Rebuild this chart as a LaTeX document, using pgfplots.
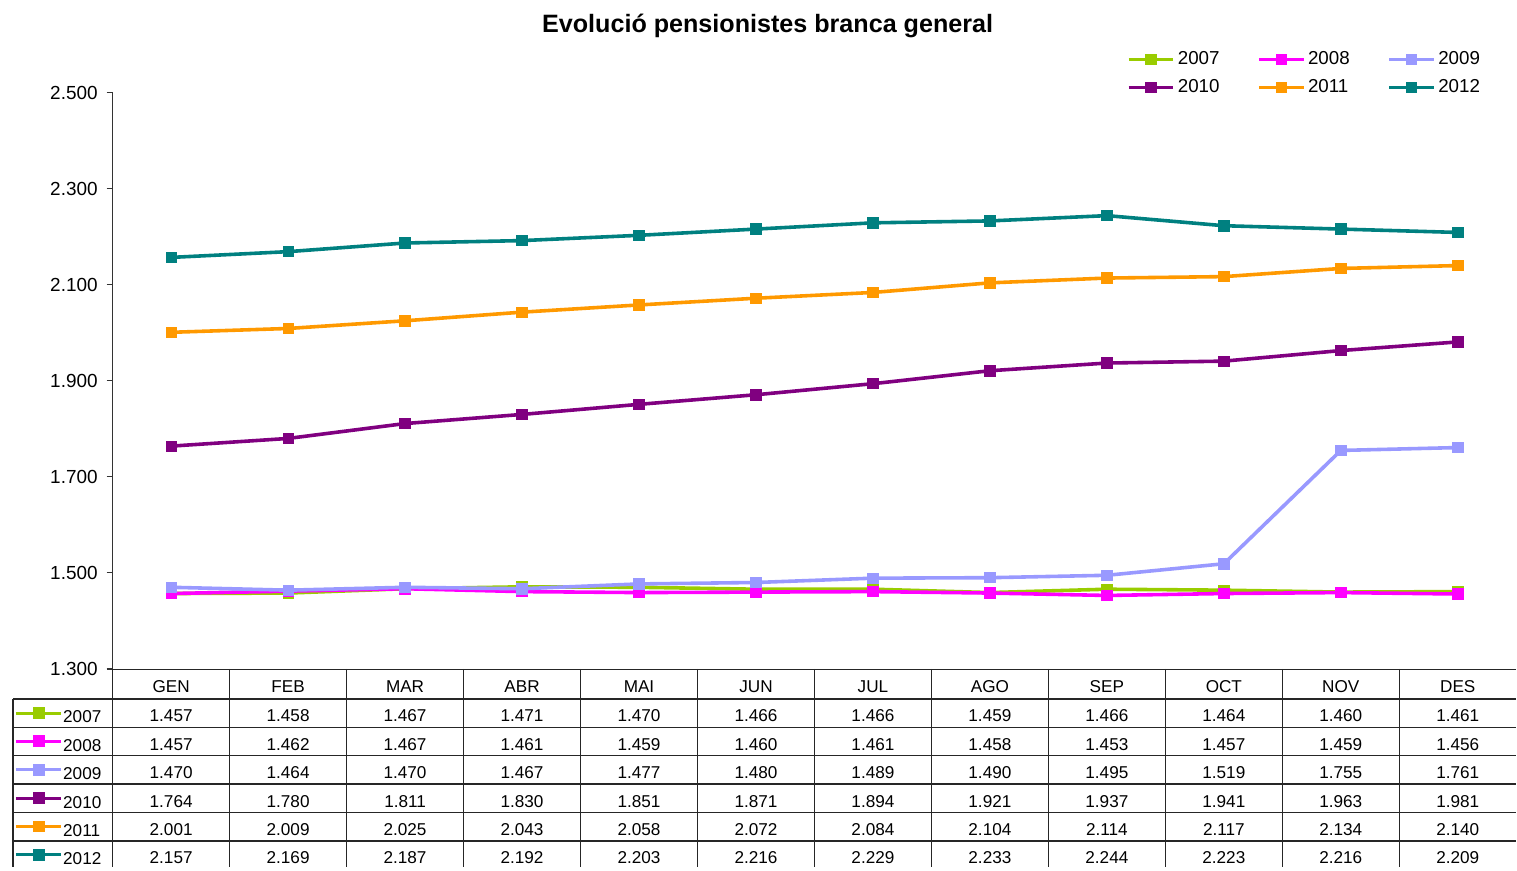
\documentclass[border=0pt]{standalone}
\usepackage{fontspec}
\setmainfont{Liberation Sans}
\usepackage{pgfplots}
\usepackage{pgfplotstable}
\pgfplotsset{compat=1.18}

\definecolor{c07}{HTML}{99CC00}
\definecolor{c08}{HTML}{FF00FF}
\definecolor{c09}{HTML}{9999FF}
\definecolor{c10}{HTML}{800080}
\definecolor{c11}{HTML}{FF9900}
\definecolor{c12}{HTML}{008080}

\pgfkeys{/pgf/number format/.cd,1000 sep={.},assume math mode=true}

% pensionistes per mes (GEN..DES = 0..11)
\pgfplotstableread{
m  y2007 y2008 y2009 y2010 y2011 y2012
0  1457  1457  1470  1764  2001  2157
1  1458  1462  1464  1780  2009  2169
2  1467  1467  1470  1811  2025  2187
3  1471  1461  1467  1830  2043  2192
4  1470  1459  1477  1851  2058  2203
5  1466  1460  1480  1871  2072  2216
6  1466  1461  1489  1894  2084  2229
7  1459  1458  1490  1921  2104  2233
8  1466  1453  1495  1937  2114  2244
9  1464  1457  1519  1941  2117  2223
10 1460  1459  1755  1963  2134  2216
11 1461  1456  1761  1981  2140  2209
}\pens

\begin{document}
\begin{tikzpicture}
% pixel grid of the reference: 1px = 0.5pt, origin top left
\begin{scope}[x=0.5pt,y=-0.5pt,shift={(-56.5pt,335.5pt)}]
\path[use as bounding box] (0,0) rectangle (1517,868);
\end{scope}

\begin{axis}[
  at={(0pt,0pt)}, anchor=south west,
  scale only axis, width=704pt, height=289pt,
  xmin=-0.5, xmax=11.5, ymin=1300, ymax=2500,
  ytick={1300,1500,...,2500},
  hide x axis, axis y line*=left,
  tick align=outside, major tick length=3pt,
  y axis line style={black!80, line width=0.6pt},
  ytick style={black!80, line width=0.6pt},
  yticklabel style={font=\fontsize{9.5}{11}\selectfont, xshift=-1pt},
  every axis plot/.append style={line width=1.8pt, mark=square*, mark size=2.6pt,
    mark options={solid, line width=0.4pt}},
  legend columns=3,
  legend cell align=left,
  legend image code/.code={
    \draw[#1, mark=none, line width=1.4pt] (0pt,0pt) -- (22.5pt,0pt);
    \draw[#1, only marks] plot coordinates {(11.25pt,0pt)};
  },
  legend style={at={(0.7225,1.072)}, anchor=north west, draw=none, fill=none,
    inner sep=0pt, font=\fontsize{9.4}{11}\selectfont, row sep=6pt,
    nodes={inner sep=0pt},
    /tikz/every odd column/.append style={column sep=1.5pt},
    /tikz/every even column/.append style={column sep=19pt}},
]
\addplot[c07] table[x=m,y=y2007]{\pens}; \addlegendentry{2007}
\addplot[c08] table[x=m,y=y2008]{\pens}; \addlegendentry{2008}
\addplot[c09] table[x=m,y=y2009]{\pens}; \addlegendentry{2009}
\addplot[c10] table[x=m,y=y2010]{\pens}; \addlegendentry{2010}
\addplot[c11] table[x=m,y=y2011]{\pens}; \addlegendentry{2011}
\addplot[c12] table[x=m,y=y2012]{\pens}; \addlegendentry{2012}
\end{axis}

\begin{scope}[x=0.5pt,y=-0.5pt,shift={(-56.5pt,335.5pt)}]
\node[font=\fontsize{12.6}{15}\bfseries\selectfont] at (770,26)
  {Evolució pensionistes branca general};

% data table grid
\begin{scope}[line width=0.7pt, black!85]
\draw (113,671.5) -- (1521,671.5);
\foreach \yy in {701,729.5,758,786.5,815,843.5}
  \draw (13,\yy) -- (1521,\yy);
\draw (13,701) -- (13,870);
\foreach \k in {0,...,11}
  \draw ({113+117.33*\k},671) -- ({113+117.33*\k},870);
\end{scope}

\begin{scope}[font=\fontsize{8.6}{10}\selectfont]
\foreach \lab [count=\k from 0] in {GEN,FEB,MAR,ABR,MAI,JUN,JUL,AGO,SEP,OCT,NOV,DES}
  \node at ({113+117.33*(\k+0.5)},688.5) {\lab};
\foreach \col/\cc/\lab [count=\j from 0] in
    {y2007/c07/2007,y2008/c08/2008,y2009/c09/2009,y2010/c10/2010,y2011/c11/2011,y2012/c12/2012} {
  \draw[\cc, line width=1.5pt] (16,{701+28.46*(\j+0.5)}) -- (61,{701+28.46*(\j+0.5)});
  \fill[\cc] (33,{701+28.46*(\j+0.5)-6}) rectangle (45,{701+28.46*(\j+0.5)+6});
  \node[anchor=west, inner sep=0pt] at (63,{701+28.46*(\j+0.5)+4}) {\lab};
  \foreach \r in {0,...,11} {
    \pgfplotstablegetelem{\r}{\col}\of\pens
    \node at ({113+117.33*(\r+0.5)},{701+28.46*(\j+0.5)+3})
      {\pgfmathprintnumber{\pgfplotsretval}};
  }
}
\end{scope}
\end{scope}
\end{tikzpicture}
\end{document}
